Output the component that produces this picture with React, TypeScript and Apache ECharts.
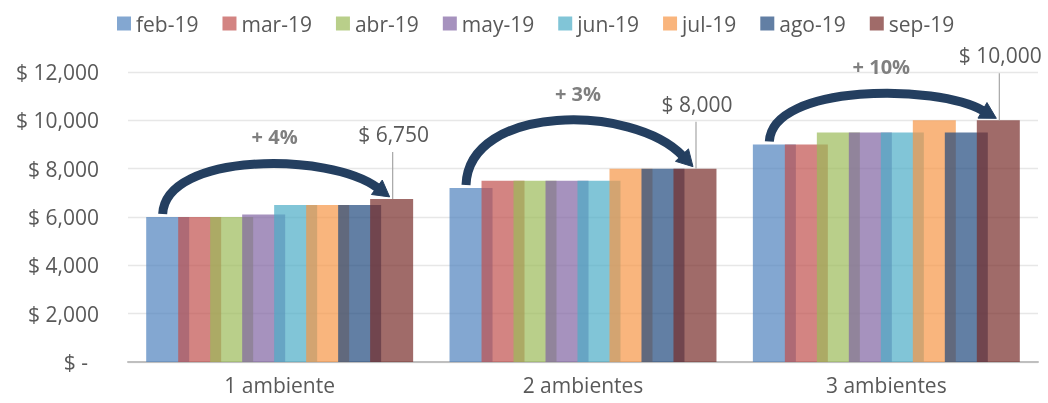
import React, { useEffect, useRef } from "react";
import * as echarts from "echarts";

const categories = ["1 ambiente", "2 ambientes", "3 ambientes"];
const months = ["feb-19", "mar-19", "abr-19", "may-19", "jun-19", "jul-19", "ago-19", "sep-19"];
const feb19 = [6000, 7200, 9000];
const mar19 = [6000, 7500, 9000];
const abr19 = [6000, 7500, 9500];
const may19 = [6100, 7500, 9500];
const jun19 = [6500, 7500, 9500];
const jul19 = [6500, 8000, 10000];
const ago19 = [6500, 8000, 9500];
const sep19 = [6750, 8000, 10000];
const seriesValues = [feb19, mar19, abr19, may19, jun19, jul19, ago19, sep19];
const growthLabels = ["+ 4%", "+ 3%", "+ 10%"];
const arrowPeak = [8200, 10000, 11100];
const yTicks = { min: 0, max: 12000, interval: 2000 };

const colors = ["#4F81BD", "#C0504D", "#9BBB59", "#8064A2", "#4BACC6", "#F79646", "#1F497D", "#772C2A"];
const FONT = "'Open Sans', 'Noto Sans', sans-serif";
const TEXT = "#595959";

export default function App() {
  const ref = useRef<HTMLDivElement>(null);
  useEffect(() => {
    const chart = echarts.init(ref.current!, null, { renderer: "svg" });
    const barSeries = months.map((m, i) => ({
      name: m,
      type: "bar",
      data: seriesValues[i],
      barWidth: 43,
      barGap: "-25.6%",
      itemStyle: { color: colors[i], opacity: 0.7 },
      emphasis: { disabled: true },
    }));
    const annData = categories.map((_, i) => [i, feb19[i], sep19[i], arrowPeak[i]]);
    const custom = {
      type: "custom",
      silent: true,
      clip: false,
      z: 10,
      data: annData,
      encode: { x: 0, y: 1 },
      renderItem: (params: any, api: any) => {
        const idx = params.dataIndex;
        const cat = api.value(0);
        const startV = api.value(1);
        const endV = api.value(2);
        const peakV = api.value(3);
        const p0 = api.coord([cat, startV]);
        const cx = p0[0];
        const yStart = p0[1];
        const yEnd = api.coord([cat, endV])[1];
        const yPeak = api.coord([cat, peakV])[1];
        const sx = cx - 117;
        const sy = yStart - 3;
        const tipX = cx + 110;
        const tipY = yEnd - 2;
        const approxEndY = tipY - 12;
        const cpY = (8 * yPeak - sy - approxEndY) / 6;
        const cp1x = sx + 3;
        const cp2x = tipX - 60;
        let dx = tipX - cp2x;
        let dy = tipY - cpY;
        const len = Math.sqrt(dx * dx + dy * dy);
        dx /= len;
        dy /= len;
        const L = 16;
        const W = 9;
        const ex = tipX - dx * L;
        const ey = tipY - dy * L;
        const px = -dy;
        const py = dx;
        const navy = "#243F60";
        const valueText = "$ " + Number(endV).toLocaleString("en-US");
        return {
          type: "group",
          children: [
            {
              type: "bezierCurve",
              shape: { x1: sx, y1: sy, x2: ex + dx * 1, y2: ey + dy * 1, cpx1: cp1x, cpy1: cpY, cpx2: cp2x, cpy2: cpY },
              style: { stroke: navy, lineWidth: 9, fill: "none", lineCap: "butt" },
            },
            {
              type: "polygon",
              shape: { points: [[ex + px * W, ey + py * W], [tipX, tipY], [ex - px * W, ey - py * W]] },
              style: { fill: navy, stroke: navy, lineWidth: 1 },
            },
            {
              type: "text",
              style: {
                text: growthLabels[idx],
                x: cx - 5,
                y: yPeak - 27,
                align: "center",
                verticalAlign: "middle",
                fill: "#7F7F7F",
                fontSize: 20,
                fontWeight: "bold",
                fontFamily: FONT,
              },
            },
            {
              type: "line",
              shape: { x1: cx + 113, y1: yEnd, x2: cx + 113, y2: yEnd - 47 },
              style: { stroke: "#A6A6A6", lineWidth: 1.2 },
            },
            {
              type: "text",
              style: {
                text: valueText,
                x: cx + 114,
                y: yEnd - 65,
                align: "center",
                verticalAlign: "middle",
                fill: TEXT,
                fontSize: 21,
                fontFamily: FONT,
              },
            },
          ],
        };
      },
    };
    const option = {
      animation: false,
      textStyle: { fontFamily: FONT },
      legend: {
        data: months,
        top: 8,
        left: 112,
        itemWidth: 14,
        itemHeight: 14,
        itemGap: 24,
        icon: "rect",
        textStyle: { color: TEXT, fontSize: 21, fontFamily: FONT },
      },
      grid: { left: 128, right: 10, top: 72, bottom: 41, containLabel: false },
      xAxis: {
        type: "category",
        data: categories,
        axisTick: { show: false },
        axisLine: { lineStyle: { color: "#BFBFBF", width: 2 } },
        axisLabel: { color: TEXT, fontSize: 21, fontFamily: FONT, margin: 12 },
      },
      yAxis: {
        type: "value",
        min: yTicks.min,
        max: yTicks.max,
        interval: yTicks.interval,
        axisLine: { show: false },
        axisTick: { show: false },
        splitLine: { lineStyle: { color: "#E7E7E7", width: 1.3 } },
        axisLabel: {
          color: TEXT,
          fontSize: 21,
          fontFamily: FONT,
          margin: 29,
          formatter: (v: number) => (v === 0 ? "{z|$ -}" : "$ " + v.toLocaleString("en-US")),
          rich: { z: { color: TEXT, fontSize: 21, fontFamily: FONT, padding: [0, 11, 0, 0] } },
        },
      },
      series: [...barSeries, custom],
    };
    chart.setOption(option as any);
    return () => chart.dispose();
  }, []);
  return <div ref={ref} style={{ position: "fixed", left: 0, top: 0, width: 1048, height: 403 }} />;
}
